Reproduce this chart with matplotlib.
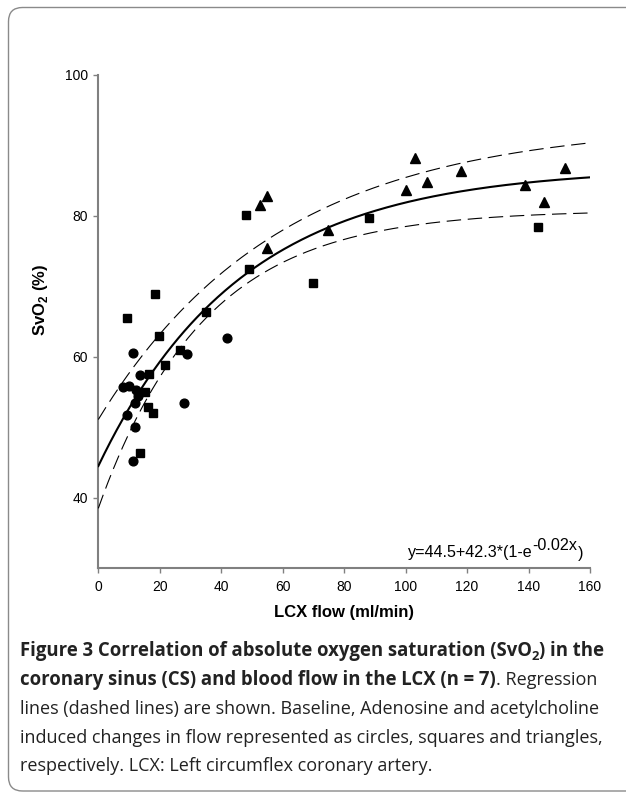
import numpy as np
import matplotlib
matplotlib.use("Agg")
import matplotlib.pyplot as plt
from matplotlib.patches import FancyBboxPatch
from matplotlib.transforms import IdentityTransform

# Baseline (circles)
base_x = [8.1, 10.0, 11.3, 12.4, 13.0, 12.0, 9.2, 11.9, 11.2, 13.6, 28.8, 27.9, 42.0]
base_y = [55.7, 55.9, 60.5, 55.3, 54.4, 53.4, 51.7, 50.1, 45.2, 57.4, 60.4, 53.5, 62.7]

# Adenosine (squares)
ado_x = [9.2, 18.4, 19.8, 35.0, 47.9, 48.9, 69.9, 88.0, 143.0, 26.5, 21.8, 16.5, 15.2, 16.1, 17.9, 13.6]
ado_y = [65.5, 68.85, 62.9, 66.4, 80.1, 72.5, 70.45, 79.7, 78.4, 60.9, 58.9, 57.6, 55.0, 52.9, 52.0, 46.4]

# Acetylcholine (triangles)
ach_x = [52.6, 55.0, 55.0, 74.9, 100.0, 103.0, 106.9, 117.9, 139.0, 145.0, 152.0]
ach_y = [81.5, 82.8, 75.4, 78.0, 83.6, 88.2, 84.8, 86.4, 84.4, 82.0, 86.8]

# regression y = a + b*(1-exp(-k x)) and its dashed bands (a, b, k)
fit = (44.5, 42.3, 0.0215)
band_hi = (51.1, 42.0, 0.017)
band_lo = (38.5, 42.3, 0.029)

eq_parts = [("y=44.5+42.3*(1-e", 0), ("-0.02x", 7), (")", -1)]

caption = [
    [("Figure 3 Correlation of absolute oxygen saturation (SvO", "bold"), ("2", "bsub"), (") in the", "bold")],
    [("coronary sinus (CS) and blood flow in the LCX (n = 7)", "bold"), (". Regression", "normal")],
    [("lines (dashed lines) are shown. Baseline, Adenosine and acetylcholine", "normal")],
    [("induced changes in flow represented as circles, squares and triangles,", "normal")],
    [("respectively. LCX: Left circumflex coronary artery.", "normal")],
]

W, H = 626, 793
fig = plt.figure(figsize=(W / 100, H / 100), dpi=100)
ax = fig.add_axes([98.3 / W, 1 - 568.3 / H, (590 - 98.3) / W, (568.3 - 74.7) / H])
r = fig.canvas.get_renderer()

def curve(p, x):
    return p[0] + p[1] * (1 - np.exp(-p[2] * x))

xs = np.linspace(0, 160, 400)
ax.plot(xs, curve(fit, xs), color="black", lw=1.5, zorder=3)
for p in (band_hi, band_lo):
    ax.plot(xs, curve(p, xs), color="black", lw=0.8, dashes=(13, 6), zorder=3)

ax.plot(base_x, base_y, "o", color="black", ms=6.3, zorder=4)
ax.plot(ado_x, ado_y, "s", color="black", ms=6.0, zorder=4)
ax.plot(ach_x, ach_y, "^", color="black", ms=7.0, zorder=4)

ax.set_xlim(0, 160)
ax.set_ylim(30, 100)
ax.set_xticks(range(0, 161, 20))
ax.set_yticks([40, 60, 80, 100])
for s in ("top", "right"):
    ax.spines[s].set_visible(False)
for s in ("left", "bottom"):
    ax.spines[s].set_color("#808080")
    ax.spines[s].set_linewidth(1.5)
ax.tick_params(direction="out", length=3.5, width=1, color="#808080", labelsize=10)
ax.tick_params(axis="x", pad=5)
ax.tick_params(axis="y", pad=4)
for lab in ax.get_xticklabels() + ax.get_yticklabels():
    lab.set_family("Liberation Sans")

# equation, written piece by piece so the exponent keeps full size
x = 408
for txt, rise in eq_parts:
    t = fig.text(x / W, 1 - (557 - rise) / H, txt, fontsize=11.6,
                 family="Liberation Sans", va="baseline", ha="left")
    x += t.get_window_extent(r).width

fig.text(344 / W, 1 - 612 / H, "LCX flow (ml/min)", ha="center", va="center",
         fontsize=12, fontweight="bold", family="Liberation Sans")
fig.text(41 / W, 1 - 300 / H, "SvO$_\\mathdefault{2}$ (%)", ha="center", va="center",
         rotation=90, fontsize=12, fontweight="bold", family="Liberation Sans")

# caption, drawn piece by piece
cap_font = "Open Sans"

def width_at(txt, weight):
    probe = fig.text(0, 0, txt, fontsize=12, family=cap_font, fontweight=weight)
    w = probe.get_window_extent(r).width
    probe.remove()
    return w

reg_size = 12 * 578 / width_at(caption[2][0][0], "normal")
bold_size = 12 * 575 / width_at(caption[0][0][0] + caption[0][2][0], "bold")

baselines = [656, 685, 714, 743, 771]
for line, yb in zip(caption, baselines):
    x = 20
    for txt, style in line:
        size = bold_size if style != "normal" else reg_size
        y = yb
        weight = "normal" if style == "normal" else "bold"
        if style == "bsub":
            size = bold_size * 0.7
            y = yb + 4
        t = fig.text(x / W, 1 - y / H, txt, fontsize=size, fontweight=weight,
                     family=cap_font, va="baseline", ha="left", color="#222222")
        x += t.get_window_extent(r).width

# rounded frame
frame = FancyBboxPatch((8.5, 2), 700, 783.5, boxstyle="round,pad=0,rounding_size=14",
                       transform=IdentityTransform(), fill=False, ec="#8a8a8a", lw=1.0)
fig.patches.append(frame)

fig.savefig("out.png", dpi=100)
